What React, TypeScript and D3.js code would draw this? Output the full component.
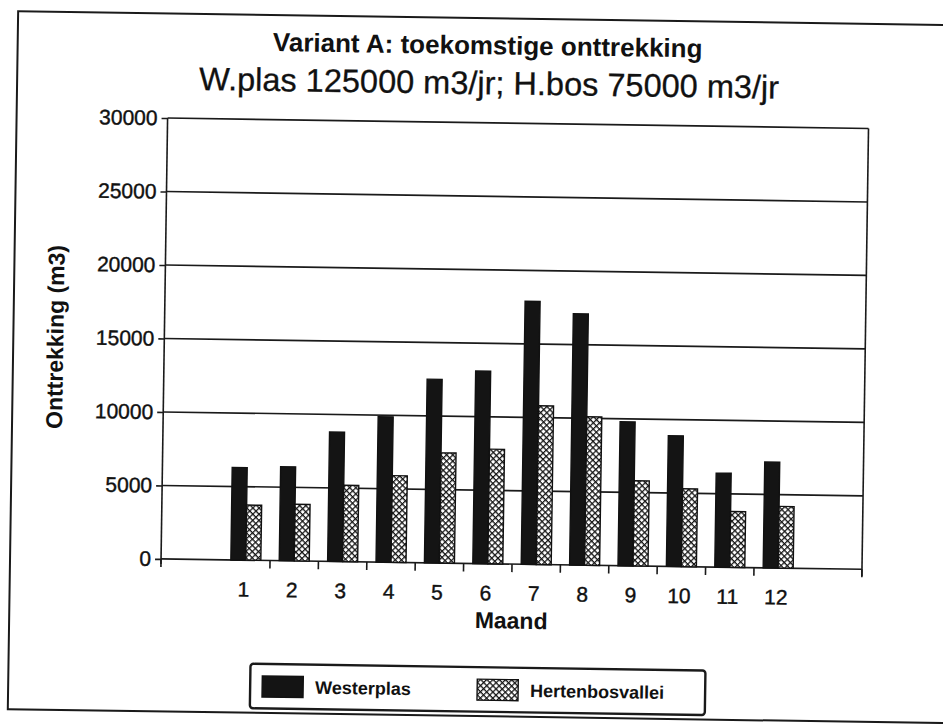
import React, { useEffect, useRef } from 'react';
import * as d3 from 'd3';

const months = ['1', '2', '3', '4', '5', '6', '7', '8', '9', '10', '11', '12'];
const seriesNames = ['Westerplas', 'Hertenbosvallei'];
const westerplas = [6300, 6400, 8800, 9900, 12500, 13100, 17900, 17100, 9800, 8900, 6400, 7200];
const hertenbosvallei = [3750, 3850, 5200, 5900, 7500, 7800, 10800, 10100, 5800, 5300, 3800, 4200];
const yTicks = [0, 5000, 10000, 15000, 20000, 25000, 30000];

const titleText = 'Variant A: toekomstige onttrekking';
const subtitleText = 'W.plas 125000 m3/jr; H.bos 75000 m3/jr';
const xTitle = 'Maand';
const yTitle = 'Onttrekking (m3)';

const FONT = 'Liberation Sans, Arial, Helvetica, sans-serif';

const App = () => {
	const ref = useRef<SVGSVGElement>(null);

	useEffect(() => {
		document.body.style.margin = '0';
		const svg = d3.select(ref.current);
		svg.selectAll('*').remove();

		// trellis fill for the second series
		const defs = svg.append('defs');
		const pat = defs.append('pattern')
			.attr('id', 'trellis')
			.attr('patternUnits', 'userSpaceOnUse')
			.attr('width', 4.4)
			.attr('height', 4.4)
			.attr('patternTransform', 'rotate(45)');
		pat.append('rect').attr('width', 4.4).attr('height', 4.4).attr('fill', '#fff');
		pat.append('path')
			.attr('d', 'M0,0.6H4.4M0.6,0V4.4')
			.attr('stroke', '#151515')
			.attr('stroke-width', 1.3);

		// the scan is tilted a little
		const root = svg.append('g').attr('transform', 'rotate(0.85,471,362)');

		// outer frame
		root.append('rect')
			.attr('x', 13).attr('y', 18)
			.attr('width', 1000).attr('height', 698)
			.attr('fill', 'none')
			.attr('stroke', '#1a1a1a')
			.attr('stroke-width', 2);

		root.append('text')
			.attr('x', 483).attr('y', 54)
			.attr('text-anchor', 'middle')
			.style('font-family', FONT)
			.style('font-weight', 'bold')
			.style('font-size', '26px')
			.attr('fill', '#111')
			.text(titleText);

		root.append('text')
			.attr('x', 485).attr('y', 94)
			.attr('text-anchor', 'middle')
			.style('font-family', FONT)
			.style('font-size', '32.5px')
			.attr('fill', '#111')
			.attr('stroke', '#111')
			.attr('stroke-width', 0.3)
			.text(subtitleText);

		const left = 164, right = 865, top = 122.6, bottom = 563.5;

		const x = d3.scaleBand().domain(months).range([224.6, 805.4]);
		const x1 = d3.scaleBand().domain(seriesNames)
			.range([x.bandwidth() * 0.19, x.bandwidth() * 0.81]);
		const y = d3.scaleLinear().domain([0, 30000]).range([bottom, top]);

		// gridlines
		root.append('g').selectAll('line')
			.data(yTicks)
			.join('line')
			.attr('x1', left).attr('x2', right)
			.attr('y1', d => y(d)).attr('y2', d => y(d))
			.attr('stroke', '#1a1a1a')
			.attr('stroke-width', 1.6);

		// right border
		root.append('line')
			.attr('x1', right).attr('x2', right)
			.attr('y1', top).attr('y2', bottom + 7)
			.attr('stroke', '#1a1a1a')
			.attr('stroke-width', 1.6);

		// y axis
		const yAxis = root.append('g')
			.attr('transform', `translate(${left},0)`)
			.call(d3.axisLeft(y).tickValues(yTicks).tickSize(6).tickPadding(4).tickFormat(d3.format('d')));
		yAxis.select('.domain').attr('stroke', '#1a1a1a').attr('stroke-width', 1.6).attr('d', `M0,${top}V${bottom + 5}`);
		yAxis.selectAll('.tick line').attr('stroke', '#1a1a1a').attr('stroke-width', 1.6);
		yAxis.selectAll('.tick text')
			.style('font-family', FONT)
			.style('font-size', '21px')
			.attr('fill', '#111')
			.attr('stroke', '#111')
			.attr('stroke-width', 0.4);

		// x axis ticks sit between the months
		const bounds = months.slice(1).map(m => x(m) as number).concat([left, right]);
		root.append('g').selectAll('line')
			.data(bounds)
			.join('line')
			.attr('x1', d => d).attr('x2', d => d)
			.attr('y1', bottom).attr('y2', bottom + 8)
			.attr('stroke', '#1a1a1a')
			.attr('stroke-width', 1.6);

		root.append('g').selectAll('text')
			.data(months)
			.join('text')
			.attr('x', d => (x(d) as number) + x.bandwidth() / 2 - 2)
			.attr('y', 600)
			.attr('text-anchor', 'middle')
			.style('font-family', FONT)
			.style('font-size', '21px')
			.attr('fill', '#111')
			.attr('stroke', '#111')
			.attr('stroke-width', 0.4)
			.text(d => d);

		// bars
		const values = [westerplas, hertenbosvallei];
		const fills = ['#141414', 'url(#trellis)'];
		seriesNames.forEach((s, si) => {
			root.append('g').selectAll('rect')
				.data(values[si])
				.join('rect')
				.attr('x', (d, i) => (x(months[i]) as number) + (x1(s) as number))
				.attr('y', d => y(d))
				.attr('width', x1.bandwidth())
				.attr('height', d => bottom - y(d))
				.attr('fill', fills[si])
				.attr('stroke', '#111')
				.attr('stroke-width', 1.4);
		});

		root.append('text')
			.attr('x', 515).attr('y', 628)
			.attr('text-anchor', 'middle')
			.style('font-family', FONT)
			.style('font-weight', 'bold')
			.style('font-size', '23px')
			.attr('fill', '#111')
			.text(xTitle);

		root.append('text')
			.attr('transform', `translate(63,${(top + bottom) / 2}) rotate(-90)`)
			.attr('text-anchor', 'middle')
			.style('font-family', FONT)
			.style('font-weight', 'bold')
			.style('font-size', '23px')
			.attr('fill', '#111')
			.text(yTitle);

		// legend
		const legend = root.append('g');
		legend.append('rect')
			.attr('x', 255).attr('y', 667)
			.attr('width', 455).attr('height', 44.5)
			.attr('rx', 3)
			.attr('fill', '#fff')
			.attr('stroke', '#1a1a1a')
			.attr('stroke-width', 2.4);
		const legendX = [267, 482];
		seriesNames.forEach((s, i) => {
			legend.append('rect')
				.attr('x', legendX[i]).attr('y', 679)
				.attr('width', 41).attr('height', 21)
				.attr('fill', fills[i])
				.attr('stroke', '#111')
				.attr('stroke-width', 1.4);
			legend.append('text')
				.attr('x', legendX[i] + 53).attr('y', 696)
				.style('font-family', FONT)
				.style('font-weight', 'bold')
				.style('font-size', '18px')
				.attr('fill', '#111')
				.text(s);
		});
	}, []);

	return <svg ref={ref} width={943} height={724} style={{ display: 'block', background: '#fff' }} />;
};

export default App;
